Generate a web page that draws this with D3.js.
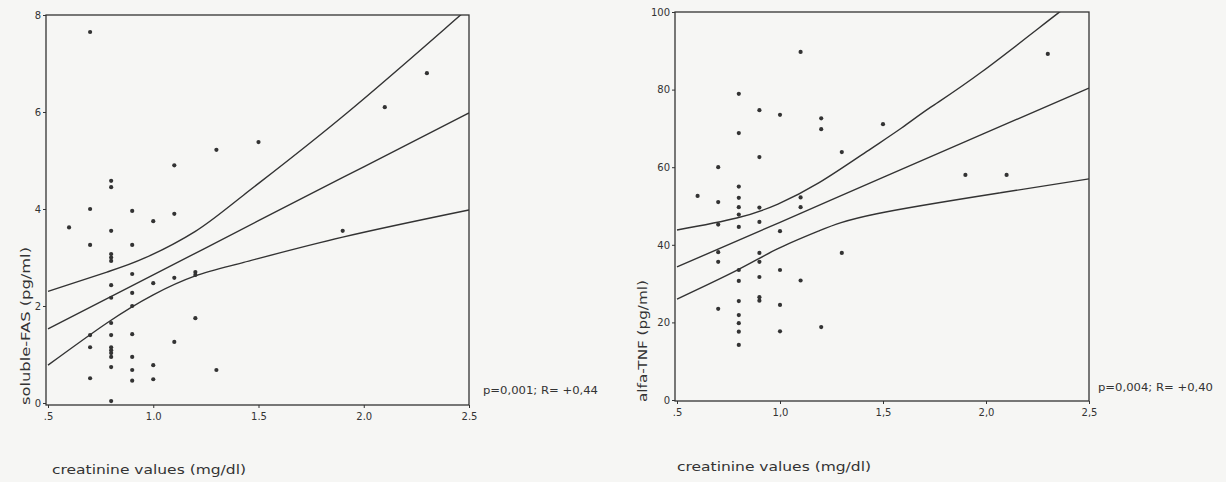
<!DOCTYPE html>
<html>
<head>
<meta charset="utf-8">
<script src="https://cdn.jsdelivr.net/npm/d3@7"></script>
<style>
  body { margin: 0; background: #f6f6f4; }
  svg { display: block; }
  .tick text { font-family: "DejaVu Sans", sans-serif; font-size: 10px; fill: #333; }
  .lab { font-family: "DejaVu Sans", sans-serif; fill: #333; }
</style>
</head>
<body>
<script>
const WIDTH = 1226;
const HEIGHT = 482;
const INK = "#333";

// ---- left panel : soluble-FAS vs creatinine ----
const fasX = [0.6, 0.7, 0.7, 0.7, 0.7, 0.7, 0.7,
  0.8, 0.8, 0.8, 0.8, 0.8, 0.8, 0.8, 0.8, 0.8, 0.8, 0.8, 0.8, 0.8, 0.8, 0.8, 0.8,
  0.9, 0.9, 0.9, 0.9, 0.9, 0.9, 0.9, 0.9, 0.9,
  1.0, 1.0, 1.0, 1.0, 1.1, 1.1, 1.1, 1.1, 1.2, 1.2, 1.2, 1.3, 1.3, 1.5, 1.9, 2.1, 2.3];
const fasY = [3.62, 7.65, 4.0, 3.26, 1.4, 1.15, 0.51,
  4.58, 4.45, 3.55, 3.07, 3.0, 2.93, 2.43, 2.17, 1.65, 1.4, 1.15, 1.09, 1.03, 0.95, 0.74, 0.04,
  3.96, 3.26, 2.66, 2.27, 2.0, 1.42, 0.95, 0.68, 0.46,
  3.75, 2.47, 0.78, 0.49, 4.9, 3.9, 2.58, 1.26, 2.7, 2.64, 1.75, 5.22, 0.68, 5.38, 3.55, 6.1, 6.8];

const fasUpperX = [0.5, 0.78, 0.96, 1.2, 1.43, 1.92, 2.46, 2.5];
const fasUpperY = [2.3, 2.7, 2.99, 3.54, 4.29, 5.98, 8.0, 8.12];
const fasMeanX = [0.5, 1.0, 1.5, 2.0, 2.5];
const fasMeanY = [1.53, 2.64, 3.76, 4.87, 5.98];
const fasLowerX = [0.5, 0.78, 1.0, 1.2, 1.43, 1.9, 2.5];
const fasLowerY = [0.78, 1.65, 2.23, 2.62, 2.9, 3.42, 3.98];

// ---- right panel : alfa-TNF vs creatinine ----
const tnfX = [0.6, 0.7, 0.7, 0.7, 0.7, 0.7, 0.7,
  0.8, 0.8, 0.8, 0.8, 0.8, 0.8, 0.8, 0.8, 0.8, 0.8, 0.8, 0.8, 0.8, 0.8,
  0.9, 0.9, 0.9, 0.9, 0.9, 0.9, 0.9, 0.9, 0.9,
  1.0, 1.0, 1.0, 1.0, 1.0, 1.1, 1.1, 1.1, 1.1, 1.2, 1.2, 1.2, 1.3, 1.3, 1.5, 1.9, 2.1, 2.3];
const tnfY = [52.6, 60.0, 51.0, 45.2, 38.1, 35.6, 23.5,
  78.9, 68.8, 55.0, 52.1, 49.7, 47.8, 44.6, 33.5, 30.7, 25.5, 21.9, 19.8, 17.6, 14.2,
  74.7, 62.6, 49.6, 45.9, 37.9, 35.6, 31.7, 26.5, 25.6,
  73.5, 43.5, 33.5, 24.5, 17.7, 89.7, 52.2, 49.7, 30.8, 72.6, 69.8, 18.8, 63.9, 37.9, 71.1, 58.0, 58.0, 89.2];

const tnfUpperX = [0.5, 0.79, 0.99, 1.19, 1.42, 1.59, 1.73, 1.98, 2.35, 2.5];
const tnfUpperY = [43.8, 46.9, 50.5, 56.0, 64.0, 70.1, 75.4, 84.6, 99.7, 105.5];
const tnfMeanX = [0.5, 1.0, 1.5, 2.0, 2.5];
const tnfMeanY = [34.3, 45.8, 57.4, 68.9, 80.4];
const tnfLowerX = [0.5, 0.79, 0.99, 1.19, 1.47, 2.07, 2.5];
const tnfLowerY = [26.0, 33.4, 39.0, 43.6, 48.0, 53.4, 57.0];

// ticks
const xTicks = [0.5, 1.0, 1.5, 2.0, 2.5];
const xTickLabelsLeft = [".5", "1.0", "1.5", "2.0", "2.5"];
const xTickLabelsRight = [".5", "1,0", "1,5", "2,0", "2,5"];
const fasTicks = [0, 2, 4, 6, 8];
const tnfTicks = [0, 20, 40, 60, 80, 100];

const svg = d3.select("body").append("svg")
  .attr("width", WIDTH)
  .attr("height", HEIGHT);

//one scatter panel with three fit curves
const drawPanel = (p) => {
  const g = svg.append("g");
  const xScale = d3.scaleLinear().domain([0.5, 2.5]).range(p.xRange);
  const yScale = d3.scaleLinear().domain(p.yDomain).range(p.yRange);

  g.append("clipPath").attr("id", p.id + "-clip")
    .append("rect")
    .attr("x", p.box[0]).attr("y", p.box[1])
    .attr("width", p.box[2] - p.box[0]).attr("height", p.box[3] - p.box[1]);

  // frame
  g.append("rect")
    .attr("x", p.box[0]).attr("y", p.box[1])
    .attr("width", p.box[2] - p.box[0]).attr("height", p.box[3] - p.box[1])
    .attr("fill", "none").attr("stroke", INK).attr("stroke-width", 1.3);

  const xAxis = d3.axisBottom(xScale)
    .tickValues(xTicks)
    .tickFormat((d, i) => p.xLabels[i])
    .tickSize(3).tickSizeOuter(0).tickPadding(5);
  const yAxis = d3.axisLeft(yScale)
    .tickValues(p.yTicks)
    .tickSize(3).tickSizeOuter(0).tickPadding(2);

  const gx = g.append("g").attr("transform", "translate(0," + p.box[3] + ")").call(xAxis);
  const gy = g.append("g").attr("transform", "translate(" + p.box[0] + ",0)").call(yAxis);
  [gx, gy].forEach(a => {
    a.select(".domain").remove();
    a.selectAll(".tick line").attr("stroke", INK);
  });

  const line = d3.line()
    .x(d => xScale(d[0]))
    .y(d => yScale(d[1]))
    .curve(d3.curveNatural);

  p.curves.forEach(c => {
    g.append("path")
      .datum(c[0].map((x, i) => [x, c[1][i]]))
      .attr("d", line)
      .attr("fill", "none")
      .attr("stroke", INK)
      .attr("stroke-width", 1.4)
      .attr("clip-path", "url(#" + p.id + "-clip)");
  });

  g.selectAll("circle.dot")
    .data(p.xs.map((x, i) => [x, p.ys[i]]))
    .enter().append("circle")
    .attr("class", "dot")
    .attr("cx", d => xScale(d[0]))
    .attr("cy", d => yScale(d[1]))
    .attr("r", 2.1)
    .attr("fill", INK);

  g.append("text").attr("class", "lab")
    .attr("x", p.xLab[0]).attr("y", p.xLab[1])
    .attr("font-size", 12)
    .attr("textLength", 194).attr("lengthAdjust", "spacingAndGlyphs")
    .text("creatinine values (mg/dl)");

  g.append("text").attr("class", "lab")
    .attr("transform", "translate(" + p.yLab[0] + "," + p.yLab[1] + ") rotate(-90)")
    .attr("text-anchor", "middle")
    .attr("font-size", 13)
    .attr("textLength", p.yLab[2]).attr("lengthAdjust", "spacingAndGlyphs")
    .text(p.yTitle);

  g.append("text").attr("class", "lab")
    .attr("x", p.stat[0]).attr("y", p.stat[1])
    .attr("font-size", 11)
    .attr("textLength", 115).attr("lengthAdjust", "spacingAndGlyphs")
    .text(p.statText);
};

drawPanel({
  id: "fas",
  xRange: [48, 469], yDomain: [0, 8], yRange: [403, 15],
  box: [46, 15, 469, 405],
  xLabels: xTickLabelsLeft, yTicks: fasTicks,
  xs: fasX, ys: fasY,
  curves: [[fasUpperX, fasUpperY], [fasMeanX, fasMeanY], [fasLowerX, fasLowerY]],
  xLab: [52, 474], yLab: [30, 326, 158], yTitle: "soluble-FAS (pg/ml)",
  stat: [483, 394], statText: "p=0,001; R= +0,44"
});

drawPanel({
  id: "tnf",
  xRange: [677, 1089], yDomain: [0, 100], yRange: [400, 12],
  box: [675, 12, 1089, 401],
  xLabels: xTickLabelsRight, yTicks: tnfTicks,
  xs: tnfX, ys: tnfY,
  curves: [[tnfUpperX, tnfUpperY], [tnfMeanX, tnfMeanY], [tnfLowerX, tnfLowerY]],
  xLab: [677, 471], yLab: [647, 341, 122], yTitle: "alfa-TNF (pg/ml)",
  stat: [1098, 391], statText: "p=0,004; R= +0,40"
});
</script>
</body>
</html>
